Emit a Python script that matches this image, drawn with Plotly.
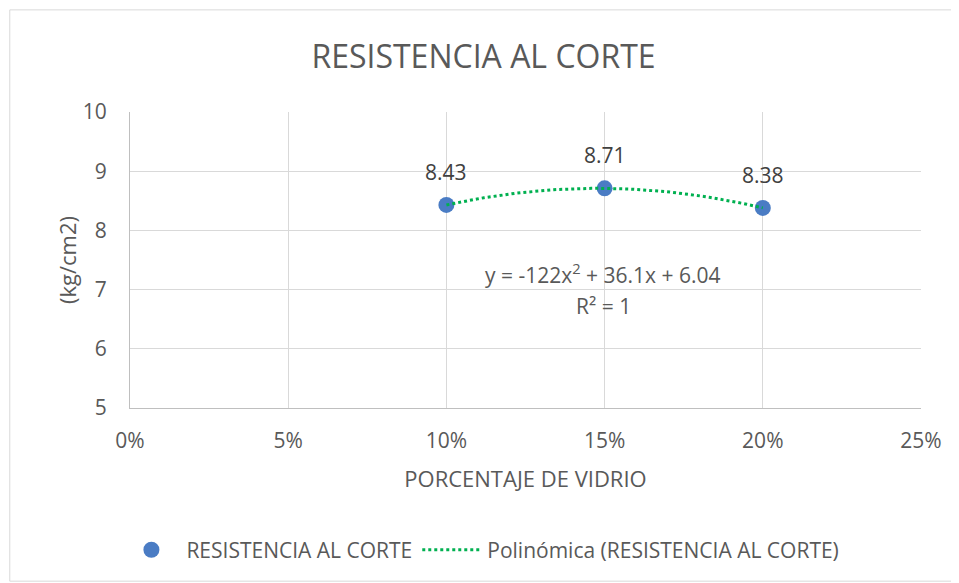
import numpy as np
import plotly.graph_objects as go

porcentaje = [0.10, 0.15, 0.20]
resistencia = [8.43, 8.71, 8.38]
etiquetas = ["8.43", "8.71", "8.38"]

# linea de tendencia polinomica (grado 2), como en Excel
coef = np.polyfit(porcentaje, resistencia, 2)
x_tend = np.linspace(porcentaje[0], porcentaje[-1], 60)
y_tend = np.polyval(coef, x_tend)

gris = "#595959"
fuente = "'Open Sans', sans-serif"

fig = go.Figure()
fig.add_trace(go.Scatter(
    x=porcentaje, y=resistencia, mode="markers",
    name="RESISTENCIA AL CORTE",
    marker=dict(color="#4A7CC4", size=16),
))
fig.add_trace(go.Scatter(
    x=x_tend, y=y_tend, mode="lines",
    name="Polinómica (RESISTENCIA AL CORTE)",
    line=dict(color="#00B050", width=3, dash="dot"),
))

# etiquetas de datos
for xv, yv, t in zip(porcentaje, resistencia, etiquetas):
    fig.add_annotation(x=xv, y=yv, text=t, showarrow=False, yshift=33,
                       font=dict(size=21, color="#404040"))

fig.add_annotation(x=0.1495, y=7.27, xref="x", yref="y", showarrow=False,
                   text="y = -122x<sup>2</sup> + 36.1x + 6.04",
                   font=dict(size=21, color=gris))
fig.add_annotation(x=0.1495, y=6.73, xref="x", yref="y", showarrow=False,
                   text="R² = 1", font=dict(size=21, color=gris))

# marco del grafico
fig.add_shape(type="rect", xref="paper", yref="paper",
              x0=-0.152, x1=1.046, y0=-0.585, y1=1.345,
              line=dict(color="#D9D9D9", width=1))

fig.update_layout(
    width=951, height=575,
    margin=dict(l=122, r=38, t=104, b=175),
    paper_bgcolor="white", plot_bgcolor="white",
    font=dict(family=fuente, color=gris, size=21),
    title=dict(text="RESISTENCIA AL CORTE", x=0.5, xanchor="center",
               y=0.915, yanchor="middle", font=dict(size=32, color=gris)),
    showlegend=True,
    legend=dict(orientation="h", x=0.443, xanchor="center", y=-0.48, yanchor="middle",
                font=dict(size=21, color=gris), tracegroupgap=0, itemwidth=60),
)
fig.update_xaxes(range=[0, 0.25], tickvals=[0, 0.05, 0.10, 0.15, 0.20, 0.25],
                 tickformat=".0%", showgrid=True, gridcolor="#D9D9D9",
                 showline=True, linecolor="#BFBFBF", zeroline=False,
                 ticks="", tickfont=dict(size=21, color=gris), ticklabelstandoff=14,
                 title=dict(text="PORCENTAJE DE VIDRIO", font=dict(size=22, color=gris),
                            standoff=18))
fig.update_yaxes(range=[5, 10], dtick=1, showgrid=True, gridcolor="#D9D9D9",
                 showline=True, linecolor="#BFBFBF", zeroline=False,
                 ticks="", tickfont=dict(size=21, color=gris), ticklabelstandoff=18,
                 title=dict(text="(kg/cm2)", font=dict(size=22, color=gris),
                            standoff=0))

fig.write_html("out.html")
